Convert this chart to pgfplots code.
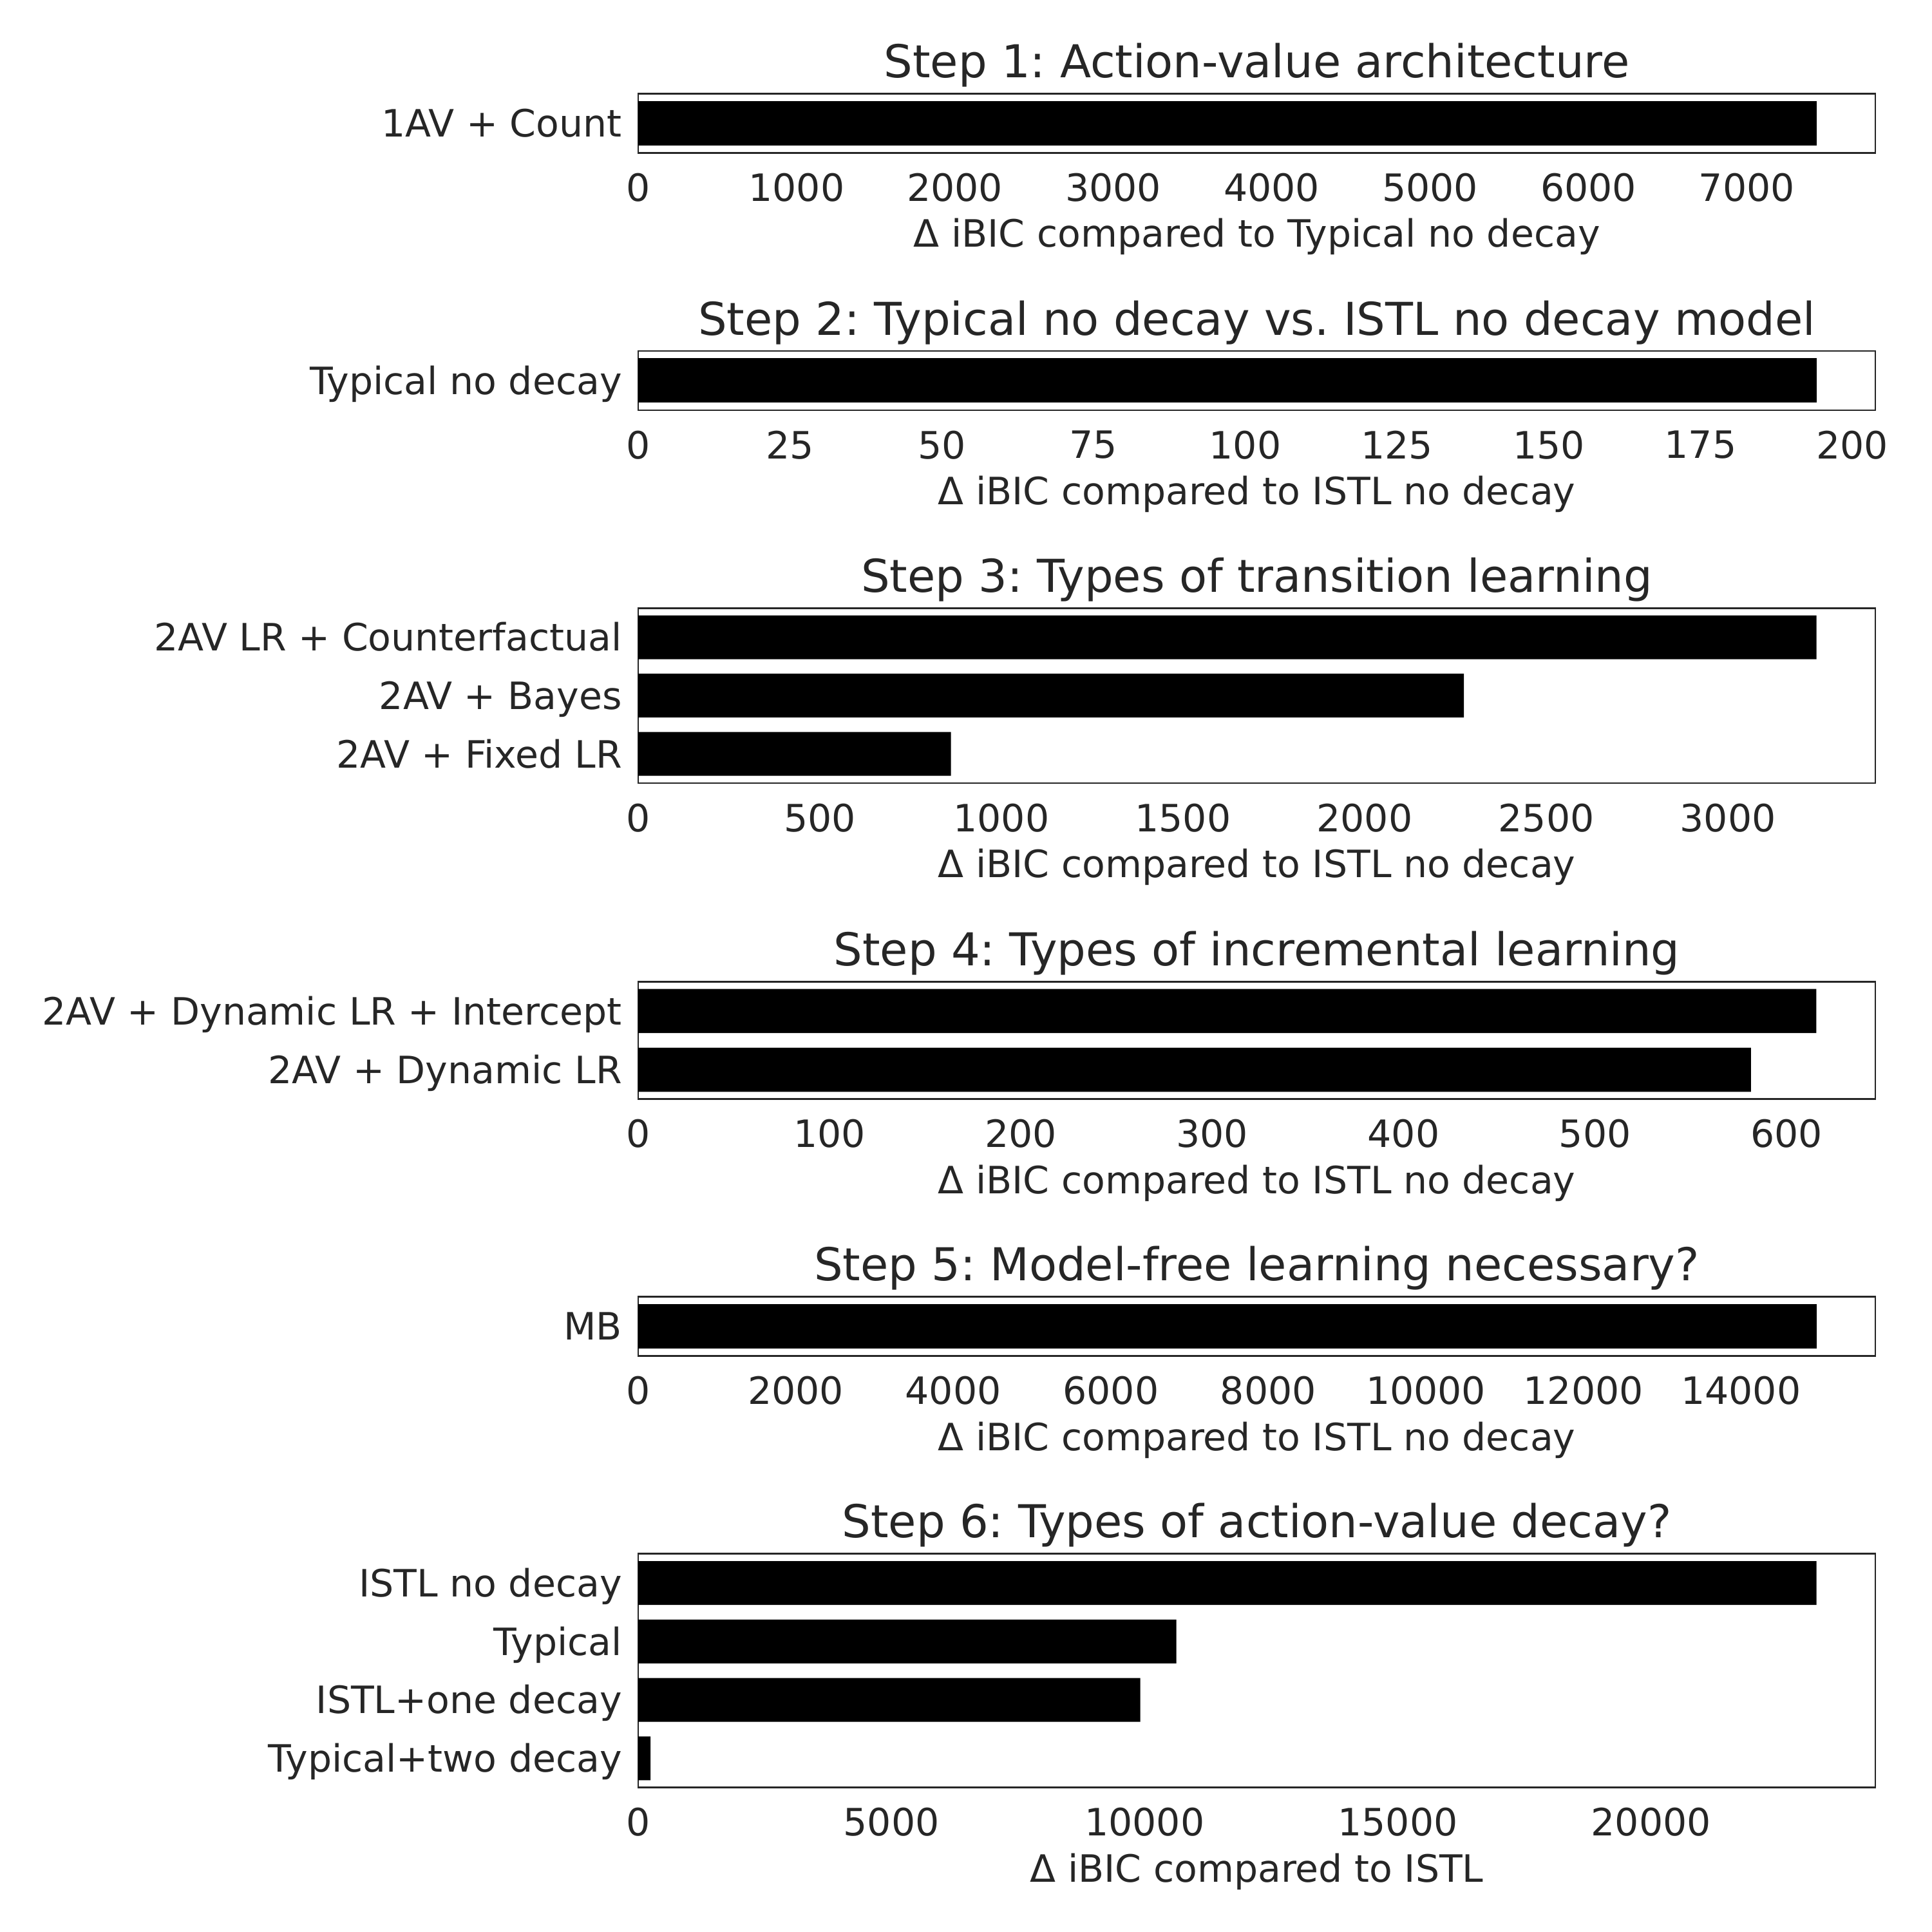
\documentclass[border=0pt]{standalone}
\usepackage{fontspec}
\setmainfont{DejaVu Sans}
\usepackage{pgfplots}
\pgfplotsset{compat=1.18}
\definecolor{tg}{HTML}{262626}
\frenchspacing
\pgfplotsset{
  panel/.style={
    scale only axis,
    width=462.73pt,
    xmin=0,
    ymin=-0.5,
    y dir=reverse,
    xbar, bar width=0.75, bar shift=0pt,
    axis line style={tg, line width=0.65pt},
    major tick length=0pt,
    tick style={draw=none},
    scaled x ticks=false,
    /pgf/number format/.cd, fixed, precision=0, 1000 sep={}, assume math mode=true,
    /pgfplots/.cd,
    ticklabel style={font=\fontsize{14.09}{16}\selectfont, text=tg, inner sep=0pt},
    xticklabel style={anchor=north, yshift=-7.47pt},
    yticklabel style={anchor=base east, xshift=-5.9pt, yshift=-5.14pt},
    xlabel style={at={(axis description cs:0.5,0)}, anchor=base, yshift=-35.34pt, font=\fontsize{14.09}{16}\selectfont, text=tg, inner sep=0pt},
    title style={at={(axis description cs:0.5,1)}, anchor=base, yshift=0pt, font=\fontsize{16.95}{20}\selectfont, text=tg, inner sep=0pt},
    ytick=data,
  },
  barstyle/.style={fill=black, draw=none},
}
\begin{document}
\begin{tikzpicture}
\path[use as bounding box] (0,0) rectangle (722.64pt,722.64pt);

% Step 1
\begin{axis}[panel, at={(238.71pt,665.49pt)}, anchor=south west, height=22.06pt,
  ymax=0.5, xmax=7812, xtick={0,1000,...,7000},
  yticklabels={1AV + Count},
  title={Step 1: Action-value architecture},
  xlabel={Δ iBIC compared to Typical no decay}]
\addplot[barstyle] coordinates {(7440,0)};
\end{axis}

% Step 2
\begin{axis}[panel, at={(238.71pt,569.2pt)}, anchor=south west, height=22.16pt,
  ymax=0.5, xmax=203.8, xtick={0,25,...,200},
  yticklabels={Typical no decay},
  title={Step 2: Typical no decay vs. ISTL no decay model},
  xlabel={Δ iBIC compared to ISTL no decay}]
\addplot[barstyle] coordinates {(194.1,0)};
\end{axis}

% Step 3
\begin{axis}[panel, at={(238.71pt,429.73pt)}, anchor=south west, height=65.45pt,
  ymax=2.5, xmax=3406, xtick={0,500,...,3000},
  yticklabels={2AV LR + Counterfactual, 2AV + Bayes, 2AV + Fixed LR},
  title={Step 3: Types of transition learning},
  xlabel={Δ iBIC compared to ISTL no decay}]
\addplot[barstyle] coordinates {(3244,0) (2273,1) (861,2)};
\end{axis}

% Step 4
\begin{axis}[panel, at={(238.71pt,311.53pt)}, anchor=south west, height=43.94pt,
  ymax=1.5, xmax=646.5, xtick={0,100,...,600},
  yticklabels={2AV + Dynamic LR + Intercept, 2AV + Dynamic LR},
  title={Step 4: Types of incremental learning},
  xlabel={Δ iBIC compared to ISTL no decay}]
\addplot[barstyle] coordinates {(615.7,0) (581.5,1)};
\end{axis}

% Step 5
\begin{axis}[panel, at={(238.71pt,215.42pt)}, anchor=south west, height=22.26pt,
  ymax=0.5, xmax=15707, xtick={0,2000,...,14000},
  yticklabels={MB},
  title={Step 5: Model-free learning necessary?},
  xlabel={Δ iBIC compared to ISTL no decay}]
\addplot[barstyle] coordinates {(14959,0)};
\end{axis}

% Step 6
\begin{axis}[panel, at={(238.71pt,54.03pt)}, anchor=south west, height=87.44pt,
  ymax=3.5, xmax=24429, xtick={0,5000,...,20000},
  yticklabels={ISTL no decay, Typical, ISTL+one decay, Typical+two decay},
  title={Step 6: Types of action-value decay?},
  xlabel={Δ iBIC compared to ISTL}]
\addplot[barstyle] coordinates {(23266,0) (10627,1) (9915,2) (242,3)};
\end{axis}
\end{tikzpicture}
\end{document}
